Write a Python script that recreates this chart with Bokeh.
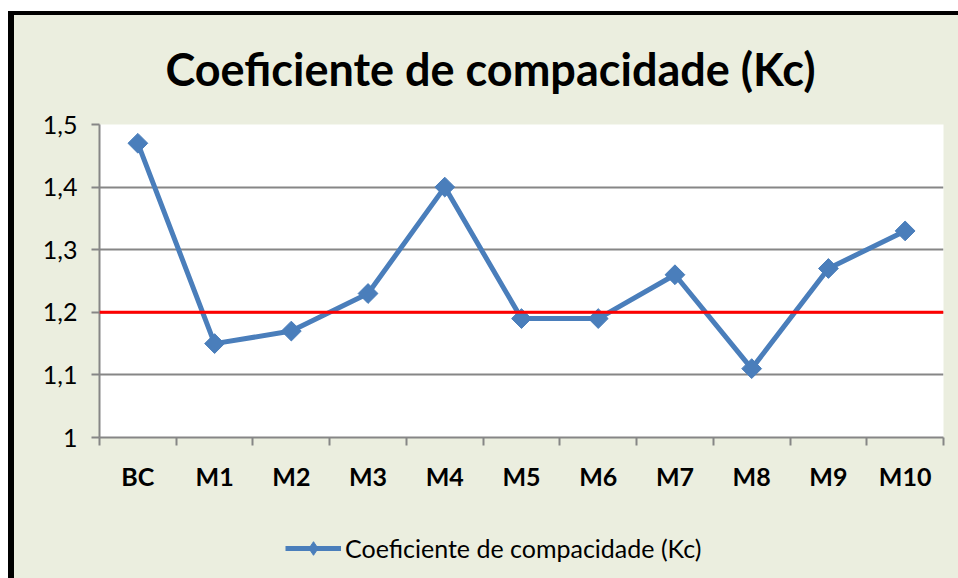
import math
from bokeh.plotting import figure
from bokeh.layouts import column
from bokeh.models import (Range1d, FixedTicker, Span, Legend, LegendItem, ColumnDataSource, Label)
from bokeh.embed import file_html
from bokeh.resources import INLINE

categories = ["BC", "M1", "M2", "M3", "M4", "M5", "M6", "M7", "M8", "M9", "M10"]
kc_values = [1.47, 1.15, 1.17, 1.23, 1.40, 1.19, 1.19, 1.26, 1.11, 1.27, 1.33]
reference_value = 1.2
y_ticks = [1.0, 1.1, 1.2, 1.3, 1.4, 1.5]
y_tick_labels = ["1", "1,1", "1,2", "1,3", "1,4", "1,5"]
series_name = "Coeficiente de compacidade (Kc)"
title_text = "Coeficiente de compacidade (Kc)"

BG = "#EBEEDF"
BLUE = "#4A7EBB"
GRAY = "#868686"
FONT = "Lato"

x_centers = [i + 0.5 for i in range(len(categories))]
x_bounds = [float(i) for i in range(len(categories) + 1)]
src = ColumnDataSource(dict(x=x_centers, y=kc_values, cat=categories))

common = dict(output_backend="svg", toolbar_location=None, width=944,
              min_border_left=85, min_border_right=15)

# ---- title strip (pixel-unit ranges) ----
p0 = figure(height=94, x_range=Range1d(0, 844), y_range=Range1d(0, 94),
            x_axis_location=None, y_axis_location=None,
            min_border_top=0, min_border_bottom=0,
            background_fill_color=BG, border_fill_color=BG, **common)
p0.outline_line_color = None
p0.grid.visible = False
p0.add_layout(Label(x=391, y=41, text=title_text, text_align="center",
                    text_baseline="alphabetic", text_font=FONT, text_font_style="bold",
                    text_font_size="45px", text_color="black"))

# ---- main chart ----
p = figure(height=411, x_range=Range1d(0, len(categories)), y_range=Range1d(1.0, 1.5),
           min_border_top=15, min_border_bottom=83,
           background_fill_color="white", border_fill_color=BG, **common)
p.outline_line_color = None

# x axis: labels at centers, ticks at boundaries
p.xaxis.ticker = FixedTicker(ticks=x_centers, minor_ticks=x_bounds)
p.xaxis.major_label_overrides = {x: c for x, c in zip(x_centers, categories)}
p.xaxis.major_tick_out = 0
p.xaxis.major_tick_in = 0
p.xaxis.minor_tick_out = 8
p.xaxis.minor_tick_in = 0
p.xaxis.minor_tick_line_color = GRAY
p.xaxis.minor_tick_line_width = 2
p.xaxis.axis_line_color = GRAY
p.xaxis.axis_line_width = 2
p.xaxis.major_label_text_font = FONT
p.xaxis.major_label_text_font_style = "bold"
p.xaxis.major_label_text_font_size = "25px"
p.xaxis.major_label_text_color = "black"
p.xaxis.major_label_standoff = 15

p.yaxis.ticker = FixedTicker(ticks=y_ticks, minor_ticks=[])
p.yaxis.major_label_overrides = {t: l for t, l in zip(y_ticks, y_tick_labels)}
p.yaxis.major_tick_out = 8
p.yaxis.major_tick_in = 0
p.yaxis.major_tick_line_color = GRAY
p.yaxis.major_tick_line_width = 2
p.yaxis.axis_line_color = GRAY
p.yaxis.axis_line_width = 2
p.yaxis.major_label_text_font = FONT
p.yaxis.major_label_text_font_size = "25px"
p.yaxis.major_label_text_color = "black"
p.yaxis.major_label_standoff = 14

p.xgrid.visible = False
p.ygrid.ticker = FixedTicker(ticks=y_ticks[1:])
p.ygrid.grid_line_color = GRAY
p.ygrid.grid_line_width = 2

line_r = p.line("x", "y", source=src, line_color=BLUE, line_width=5)
pts_r = p.scatter("x", "y", source=src, marker="square", size=14, angle=math.pi / 4,
                  fill_color=BLUE, line_color=BLUE)

p.add_layout(Span(location=reference_value, dimension="width", line_color="red", line_width=3))

# ---- legend strip (same series; its data lies far outside this strip's y range) ----
p2 = figure(height=58, x_range=Range1d(0, len(categories)), y_range=Range1d(0, 0.3),
            x_axis_location=None, y_axis_location=None,
            min_border_top=0, min_border_bottom=0,
            background_fill_color=BG, border_fill_color=BG, **common)
p2.outline_line_color = None
p2.grid.visible = False
key_line = p2.line("x", "y", source=src, line_color=BLUE, line_width=5)
key_pt = p2.scatter("x", "y", source=src, marker="diamond", size=18,
                    fill_color=BLUE, line_color=BLUE)
legend = Legend(items=[LegendItem(label=series_name, renderers=[key_line, key_pt])],
                location=(186, 13), orientation="horizontal",
                background_fill_alpha=0, border_line_color=None,
                padding=0, margin=0, glyph_width=56, glyph_height=34, label_standoff=4,
                label_text_font=FONT, label_text_font_size="25px", label_text_color="black")
p2.add_layout(legend)

layout = column(p0, p, p2, spacing=0,
                styles={"border-left": "6px solid black", "border-top": "4px solid black",
                        "margin-top": "11px", "margin-left": "8px",
                        "background-color": BG})

open("out.html", "w").write(file_html(layout, INLINE))
